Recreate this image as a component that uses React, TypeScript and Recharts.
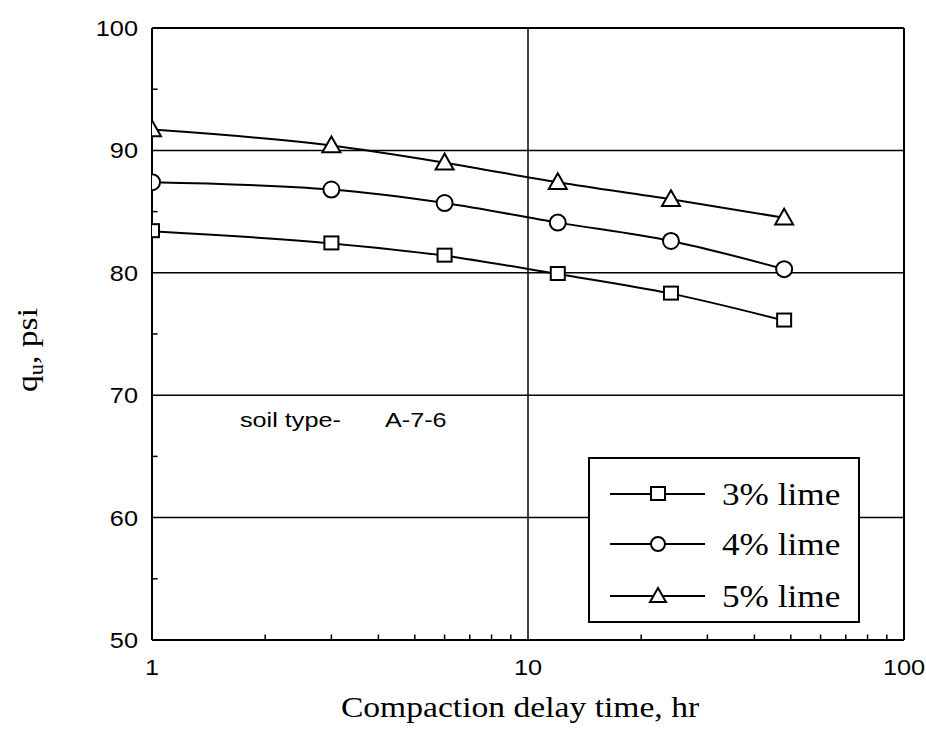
import React from 'react';
import { LineChart, Line, XAxis, YAxis, ReferenceLine, Legend, Label, Customized } from 'recharts';

const delayHours = [1, 3, 6, 12, 24, 48];
const lime3 = [83.4, 82.4, 81.4, 79.9, 78.3, 76.1];
const lime4 = [87.4, 86.8, 85.7, 84.1, 82.6, 80.3];
const lime5 = [91.7, 90.4, 89.0, 87.4, 86.0, 84.5];
const seriesNames = ['3% lime', '4% lime', '5% lime'];
const xTicks = [1, 10, 100];
const yTicks = [50, 60, 70, 80, 90, 100];
const yGrid = [60, 70, 80, 90];
const xGrid = [10];
const xMinor = [2, 3, 4, 5, 6, 7, 8, 9, 20, 30, 40, 50, 60, 70, 80, 90];
const yMinor = [55, 65, 75, 85, 95];
const xTitle = 'Compaction delay time, hr';
const annotation = ['soil type-', 'A-7-6'];

const data = delayHours.map((x, i) => ({ x, l3: lime3[i], l4: lime4[i], l5: lime5[i] }));

const SERIF = "'Liberation Serif', 'Times New Roman', serif";
const SANS = "'Liberation Sans', Arial, sans-serif";

const SquareMark = ({ cx, cy, size = 14 }: any) => (
  <rect x={cx - size / 2} y={cy - size / 2} width={size} height={size - 1} fill="#fff" stroke="#000" strokeWidth={2} />
);
const CircleMark = ({ cx, cy, r = 8 }: any) => (
  <circle cx={cx} cy={cy} r={r} fill="#fff" stroke="#000" strokeWidth={2} />
);
const TriMark = ({ cx, cy, s = 9 }: any) => (
  <polygon points={`${cx},${cy - s} ${cx - s},${cy + s * 0.75} ${cx + s},${cy + s * 0.75}`} fill="#fff" stroke="#000" strokeWidth={2} strokeLinejoin="miter" />
);

const markers = [SquareMark, CircleMark, TriMark];

const makeDot = (k: number) => (p: any) => {
  const M = markers[k];
  return <M key={`d${k}-${p.index}`} cx={p.cx} cy={p.cy} />;
};

const XTick = (p: any) => (
  <text transform={`translate(${p.x},${p.y + 35}) scale(1.15,1)`} textAnchor="middle" fontFamily={SANS} fontSize={22} fill="#000">
    {p.payload.value}
  </text>
);
const YTick = (p: any) => (
  <text transform={`translate(${p.x - 14},${p.y + 8}) scale(1.15,1)`} textAnchor="end" fontFamily={SANS} fontSize={22} fill="#000">
    {p.payload.value}
  </text>
);

const LegendBox = () => (
  <div style={{ width: 272, height: 166, border: '2px solid #000', boxSizing: 'border-box', background: '#fff', position: 'relative' }}>
    {seriesNames.map((name, k) => {
      const M = markers[k];
      const top = [35, 85, 137][k];
      return (
        <div key={name} style={{ position: 'absolute', left: 0, top: top - 20, height: 40, width: 268 }}>
          <svg width={120} height={40} style={{ position: 'absolute', left: 20, top: 0 }}>
            <line x1={0} y1={20} x2={95} y2={20} stroke="#000" strokeWidth={2} />
            <M cx={48} cy={20} size={14} r={7} s={8} />
          </svg>
          <span style={{ position: 'absolute', left: 132, top: 0, lineHeight: '40px', fontFamily: SERIF, fontSize: 32, color: '#000', whiteSpace: 'nowrap', transform: 'scaleX(1.1)', transformOrigin: 'left center' }}>
            {name}
          </span>
        </div>
      );
    })}
  </div>
);

const Annotation = () => (
  <g>
    <text transform="translate(240,427) scale(1.2,1)" fontFamily={SANS} fontSize={21} fill="#000">{annotation[0]}</text>
    <text transform="translate(385,427) scale(1.2,1)" fontFamily={SANS} fontSize={21} fill="#000">{annotation[1]}</text>
  </g>
);

export default function App() {
  return (
    <div style={{ position: 'absolute', left: 0, top: 0, width: 926, height: 737, background: '#fff' }}>
      <LineChart width={926} height={737} data={data} margin={{ top: 28, right: 22, bottom: 57, left: 92 }}>
        {yGrid.map((v) => (
          <ReferenceLine key={`gy${v}`} y={v} stroke="#000" strokeWidth={1.5} />
        ))}
        {xGrid.map((v) => (
          <ReferenceLine key={`gx${v}`} x={v} stroke="#000" strokeWidth={1.5} />
        ))}
        <ReferenceLine y={100} stroke="#000" strokeWidth={2} />
        <ReferenceLine x={100} stroke="#000" strokeWidth={2} />
        {xMinor.map((v) => (
          <ReferenceLine key={`mx${v}`} segment={[{ x: v, y: 50 }, { x: v, y: 50.45 }]} stroke="#000" strokeWidth={1.5} />
        ))}
        {yMinor.map((v) => (
          <ReferenceLine key={`my${v}`} segment={[{ x: 1, y: v }, { x: 1.035, y: v }]} stroke="#000" strokeWidth={1.5} />
        ))}
        <XAxis
          dataKey="x"
          type="number"
          scale="log"
          domain={[1, 100]}
          ticks={xTicks}
          allowDataOverflow
          height={40}
          axisLine={{ stroke: '#000', strokeWidth: 2 }}
          tickLine={false}
          tickSize={0}
          tickMargin={0}
          tick={<XTick />}
        >
          <Label
            content={(props: any) => {
              const vb = props.viewBox || { x: 152, y: 640, width: 752 };
              return (
                <text transform={`translate(${vb.x + vb.width / 2 - 8},${vb.y + 77}) scale(1.12,1)`} textAnchor="middle" fontFamily={SERIF} fontSize={30} fill="#000">
                  {xTitle}
                </text>
              );
            }}
          />
        </XAxis>
        <YAxis
          type="number"
          domain={[50, 100]}
          ticks={yTicks}
          allowDataOverflow
          width={60}
          axisLine={{ stroke: '#000', strokeWidth: 2 }}
          tickLine={false}
          tickSize={0}
          tickMargin={0}
          tick={<YTick />}
        >
          <Label
            content={() => (
              <text transform="translate(37,350) rotate(-90) scale(1.12,1)" textAnchor="middle" fontFamily={SERIF} fontSize={30} fill="#000">
                q<tspan fontSize={20} dy={6}>u</tspan>
                <tspan dy={-6}>, psi</tspan>
              </text>
            )}
          />
        </YAxis>
        <Line type="monotone" dataKey="l3" name={seriesNames[0]} stroke="#000" strokeWidth={2} dot={makeDot(0)} activeDot={false} isAnimationActive={false} />
        <Line type="monotone" dataKey="l4" name={seriesNames[1]} stroke="#000" strokeWidth={2} dot={makeDot(1)} activeDot={false} isAnimationActive={false} />
        <Line type="monotone" dataKey="l5" name={seriesNames[2]} stroke="#000" strokeWidth={2} dot={makeDot(2)} activeDot={false} isAnimationActive={false} />
        <Customized component={Annotation} />
        <Legend
          layout="horizontal"
          verticalAlign="middle"
          align="center"
          content={() => <LegendBox />}
          wrapperStyle={{ position: 'absolute', left: 588, top: 457, width: 272, height: 166 }}
        />
      </LineChart>
    </div>
  );
}
